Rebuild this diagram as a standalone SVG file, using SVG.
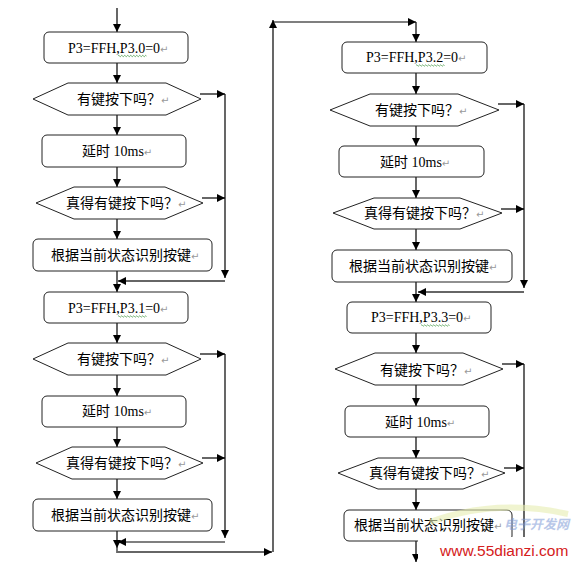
<svg xmlns="http://www.w3.org/2000/svg" width="574" height="564" viewBox="0 0 574 564">
<style>
.bx{fill:#fff;stroke:#222;stroke-width:1}
.ln{fill:none;stroke:#000;stroke-width:1.2}
.gl{fill:none;stroke:#666;stroke-width:1.8}
.t{font-family:"Liberation Serif","Noto Sans CJK SC",serif;font-size:14px;fill:#000}
.rt{font-family:"DejaVu Sans",sans-serif;font-size:10px;fill:#999}
.sq{fill:none;stroke:#4a9a4a;stroke-width:0.8}
</style>
<defs>
<marker id="ah" viewBox="0 0 10 10" refX="10" refY="5" markerWidth="9" markerHeight="8" markerUnits="userSpaceOnUse" orient="auto">
<path d="M0,0 L10,5 L0,10 z" fill="#000"/>
</marker>
<path id="wv" d="M0,0 q.75,-1.4 1.5,0 t1.5,0 t1.5,0 t1.5,0 t1.5,0 t1.5,0 t1.5,0 t1.5,0 t1.5,0 t1.5,0 t1.5,0 t1.5,0 t1.5,0 t1.5,0 t1.5,0 t1.5,0 t1.5,0 t1.5,0 t1.5,0"/>
</defs>
<rect width="574" height="564" fill="#fff"/>

<g id="connectors">
<path class="ln" d="M117,8 V32" marker-end="url(#ah)"/>
<path class="ln" d="M117,63 V83" marker-end="url(#ah)"/>
<path class="ln" d="M117,115 V135" marker-end="url(#ah)"/>
<path class="ln" d="M117,167 V187" marker-end="url(#ah)"/>
<path class="ln" d="M117,219 V239" marker-end="url(#ah)"/>
<path class="ln" d="M117,271 V292" marker-end="url(#ah)"/>
<path class="ln" d="M200,94 H225" marker-end="url(#ah)"/>
<path class="ln" d="M202,198 H225" marker-end="url(#ah)"/>
<path class="ln" d="M225,94 V278" marker-end="url(#ah)"/>
<path class="gl" d="M225,281 H118" marker-end="url(#ah)"/>

<path class="ln" d="M117,323 V343" marker-end="url(#ah)"/>
<path class="ln" d="M117,375 V396" marker-end="url(#ah)"/>
<path class="ln" d="M117,427 V447" marker-end="url(#ah)"/>
<path class="ln" d="M117,479 V499" marker-end="url(#ah)"/>
<path class="ln" d="M117,531 V548" marker-end="url(#ah)"/>
<path class="ln" d="M200,354 H225" marker-end="url(#ah)"/>
<path class="ln" d="M202,458 H225" marker-end="url(#ah)"/>
<path class="ln" d="M225,354 V538" marker-end="url(#ah)"/>
<path class="ln" d="M225,542 H118" marker-end="url(#ah)"/>

<path class="gl" d="M117,548 V552 H272" marker-end="url(#ah)"/>
<path class="ln" d="M273,552 V20" marker-end="url(#ah)"/>
<path class="ln" d="M273,22 H416" marker-end="url(#ah)"/>
<path class="ln" d="M416,22 V42" marker-end="url(#ah)"/>

<path class="ln" d="M416,73 V94" marker-end="url(#ah)"/>
<path class="ln" d="M416,126 V146" marker-end="url(#ah)"/>
<path class="ln" d="M416,177 V198" marker-end="url(#ah)"/>
<path class="ln" d="M416,229 V250" marker-end="url(#ah)"/>
<path class="ln" d="M416,282 V302" marker-end="url(#ah)"/>
<path class="ln" d="M498,104 H524" marker-end="url(#ah)"/>
<path class="ln" d="M501,209 H524" marker-end="url(#ah)"/>
<path class="ln" d="M524,104 V288" marker-end="url(#ah)"/>
<path class="gl" d="M524,292 H418" marker-end="url(#ah)"/>

<path class="ln" d="M416,333 V353" marker-end="url(#ah)"/>
<path class="ln" d="M416,385 V406" marker-end="url(#ah)"/>
<path class="ln" d="M416,437 V458" marker-end="url(#ah)"/>
<path class="ln" d="M416,489 V510" marker-end="url(#ah)"/>
<path class="ln" d="M416,541 V562" marker-end="url(#ah)"/>
<path class="ln" d="M502,364 H524" marker-end="url(#ah)"/>
<path class="ln" d="M504,468 H524" marker-end="url(#ah)"/>
<path class="ln" d="M524,364 V548" marker-end="url(#ah)"/>
<path class="ln" d="M524,552 H418" marker-end="url(#ah)"/>
</g>

<g id="n1"><rect class="bx" x="44" y="32" width="144" height="31" rx="5"/><text class="t" x="68" y="52.5">P3=FFH,P3.0=0<tspan class="rt">↵</tspan></text><use href="#wv" class="sq" x="118" y="56"/></g>
<g id="n2"><polygon class="bx" points="33,99 68,83 166,83 201,99 166,115 68,115"/><text class="t" x="77" y="104">有键按下吗？<tspan class="rt">↵</tspan></text></g>
<g id="n3"><rect class="bx" x="42" y="135" width="144" height="32" rx="5"/><text class="t" x="82" y="156">延时 10ms<tspan class="rt">↵</tspan></text></g>
<g id="n4"><polygon class="bx" points="36,203 74,187 165,187 203,203 165,219 74,219"/><text class="t" x="66" y="208">真得有键按下吗？<tspan class="rt">↵</tspan></text></g>
<g id="n5"><rect class="bx" x="33" y="239" width="179" height="32" rx="5"/><text class="t" x="51" y="260">根据当前状态识别按键<tspan class="rt">↵</tspan></text></g>

<g id="n6"><rect class="bx" x="44" y="292" width="144" height="31" rx="5"/><text class="t" x="68" y="313">P3=FFH,P3.1=0<tspan class="rt">↵</tspan></text><use href="#wv" class="sq" x="118" y="316.5"/></g>
<g id="n7"><polygon class="bx" points="33,359 68,343 166,343 201,359 166,375 68,375"/><text class="t" x="77" y="364">有键按下吗？<tspan class="rt">↵</tspan></text></g>
<g id="n8"><rect class="bx" x="42" y="396" width="144" height="31" rx="5"/><text class="t" x="82" y="416">延时 10ms<tspan class="rt">↵</tspan></text></g>
<g id="n9"><polygon class="bx" points="36,463 72,447 165,447 203,463 165,479 72,479"/><text class="t" x="66" y="468">真得有键按下吗？<tspan class="rt">↵</tspan></text></g>
<g id="n10"><rect class="bx" x="33" y="499" width="179" height="32" rx="5"/><text class="t" x="51" y="520">根据当前状态识别按键<tspan class="rt">↵</tspan></text></g>

<g id="n11"><rect class="bx" x="342" y="42" width="145" height="31" rx="5"/><text class="t" x="366" y="62">P3=FFH,P3.2=0<tspan class="rt">↵</tspan></text><use href="#wv" class="sq" x="416" y="65.5"/></g>
<g id="n12"><polygon class="bx" points="330,110 370,94 458,94 499,110 458,126 370,126"/><text class="t" x="375" y="115">有键按下吗？<tspan class="rt">↵</tspan></text></g>
<g id="n13"><rect class="bx" x="339" y="146" width="145" height="31" rx="5"/><text class="t" x="380" y="167">延时 10ms<tspan class="rt">↵</tspan></text></g>
<g id="n14"><polygon class="bx" points="333,213 374,198 460,198 502,213 460,229 374,229"/><text class="t" x="364" y="218">真得有键按下吗？<tspan class="rt">↵</tspan></text></g>
<g id="n15"><rect class="bx" x="332" y="250" width="180" height="32" rx="5"/><text class="t" x="349" y="271">根据当前状态识别按键<tspan class="rt">↵</tspan></text></g>

<g id="n16"><rect class="bx" x="347" y="302" width="144" height="31" rx="5"/><text class="t" x="371" y="322">P3=FFH,P3.3=0<tspan class="rt">↵</tspan></text><use href="#wv" class="sq" x="421" y="325.5"/></g>
<g id="n17"><polygon class="bx" points="335,369 375,353 463,353 503,369 463,385 375,385"/><text class="t" x="380" y="375">有键按下吗？<tspan class="rt">↵</tspan></text></g>
<g id="n18"><rect class="bx" x="345" y="406" width="144" height="31" rx="5"/><text class="t" x="385" y="427">延时 10ms<tspan class="rt">↵</tspan></text></g>
<g id="n19"><polygon class="bx" points="338,473 378,458 463,458 505,473 463,489 378,489"/><text class="t" x="369" y="478">真得有键按下吗？<tspan class="rt">↵</tspan></text></g>
<g id="n20"><rect class="bx" x="344" y="510" width="168" height="31" rx="5"/><text class="t" x="354" y="530">根据当前状态识别按键<tspan class="rt">↵</tspan></text></g>

<g id="watermark">
<path d="M430,522 Q495,498 568,514" fill="none" stroke="#e6ecb0" stroke-width="6" opacity="0.6"/>
<text x="504" y="529" font-family="'Noto Sans CJK SC',sans-serif" font-size="13" font-weight="bold" font-style="italic" fill="#7e9ad6" opacity="0.55">电子开发网</text>
<rect x="418" y="537" width="156" height="27" fill="#fff"/>
<text x="440" y="556" font-family="'Liberation Sans',Arial,sans-serif" font-size="15.5" fill="#d42020">www.55dianzi.com</text>
</g>
</svg>
